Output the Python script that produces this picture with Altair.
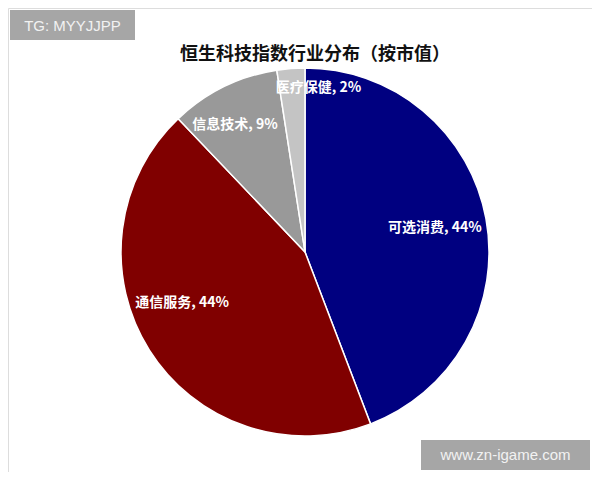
import altair as alt
import pandas as pd

categories = ["可选消费", "通信服务", "信息技术", "医疗保健"]
values = [44.2, 43.7, 9.65, 2.45]
pct_labels = ["44%", "44%", "9%", "2%"]
colors = ["#000080", "#800000", "#999999", "#c4c4c4"]
title_text = "恒生科技指数行业分布（按市值）"
wm_left = "TG: MYYJJPP"
wm_right = "www.zn-igame.com"

df = pd.DataFrame({
    "cat": categories,
    "value": values,
    "order": list(range(len(categories))),
    "label": [f"{c}, {p}" for c, p in zip(categories, pct_labels)],
})

CX, CY, R = 297, 244, 184
FONT = "Noto Sans CJK SC"

base = alt.Chart(df).encode(
    theta=alt.Theta("value:Q", stack=True),
    order=alt.Order("order:Q"),
)

pie = base.mark_arc(stroke="white", strokeWidth=1.5).encode(
    color=alt.Color("cat:N", scale=alt.Scale(domain=categories, range=colors), legend=None),
    x=alt.value(CX), y=alt.value(CY), radius=alt.value(R),
)

# label placement per slice: (radius, dx, dy)
placement = {
    "可选消费": (132, 0, 0),
    "通信服务": (130, -13, -18),
    "信息技术": (145, -6, 3),
    "医疗保健": (164, 26, 0),
}
label_layers = []
for cat in categories:
    r, dx, dy = placement[cat]
    label_layers.append(
        base.mark_text(font=FONT, fontSize=14, fontWeight="bold", color="white",
                       align="center", baseline="middle", dx=dx, dy=dy).encode(
            x=alt.value(CX), y=alt.value(CY), radius=alt.value(r),
            text=alt.condition(f"datum.cat == '{cat}'", "label:N", alt.value("")),
        )
    )

title = alt.Chart(pd.DataFrame({"t": [title_text]})).mark_text(
    font=FONT, fontSize=18, fontWeight="bold", color="#111111", align="center", baseline="middle"
).encode(text="t:N", x=alt.value(307), y=alt.value(47))

wm_df = pd.DataFrame({"t": [wm_left]})
wm1_box = alt.Chart(wm_df).mark_rect(color="#a6a6a6").encode(
    x=alt.value(2), x2=alt.value(127), y=alt.value(2), y2=alt.value(32))
wm1_txt = alt.Chart(wm_df).mark_text(font="Liberation Sans", fontSize=15, color="#f2f2f2",
                                     align="center", baseline="middle").encode(
    text="t:N", x=alt.value(64.5), y=alt.value(17.5))

wm2_df = pd.DataFrame({"t": [wm_right]})
wm2_box = alt.Chart(wm2_df).mark_rect(color="#a6a6a6").encode(
    x=alt.value(413), x2=alt.value(582), y=alt.value(432), y2=alt.value(462))
wm2_txt = alt.Chart(wm2_df).mark_text(font="Liberation Sans", fontSize=15, color="#f2f2f2",
                                      align="center", baseline="middle").encode(
    text="t:N", x=alt.value(497.5), y=alt.value(447))

chart = alt.layer(pie, *label_layers, title, wm1_box, wm1_txt, wm2_box, wm2_txt).properties(
    width=584, height=464, autosize=alt.AutoSizeParams(type="none"), padding=0,
).configure_view(stroke="transparent", strokeWidth=0).configure(background="white")

chart.save("out.html", embed_options={"renderer": "svg", "actions": False})
